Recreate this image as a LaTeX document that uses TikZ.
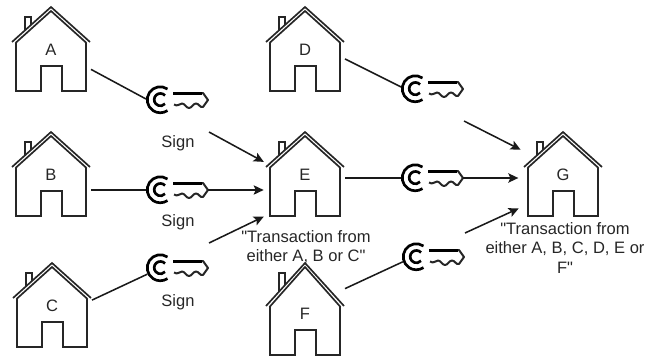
\documentclass[tikz,border=0pt]{standalone}
\usepackage{fontspec}
\setmainfont{Liberation Sans}[Ligatures=TeXOff]
\usetikzlibrary{arrows.meta}

\tikzset{
  every pic/.style={yscale=-1},
  inkline/.style={draw=black!85,line width=1.25pt,line join=miter},
  keyline/.style={draw=black,line width=2pt},
  link/.style={draw=black!90,line width=1.15pt},
  arrowlink/.style={link,-{Stealth[length=7.5pt,width=7pt,inset=1.5pt]},shorten >=1pt},
  housebox/.style={inner sep=0pt,outer sep=0pt,minimum width=60pt},
  keyring/.style={circle,inner sep=0pt,outer sep=0pt,minimum size=21pt},
  textlabel/.style={inner sep=0.75pt,align=center,text=black!85,font=\fontsize{12.4}{14.7}\selectfont},
  pics/house/.style n args={2}{code={
    \node[housebox,minimum height={(#2+49)*0.75pt}] (-box) at (0,{(#2+49)/2}) {};
    \node[textlabel] (-label) at (0,#2+8) {#1};
    %roof, two lines
    \draw[inkline] (-39,#2) -- (0,0) -- (39,#2);
    \draw[inkline] (-35.5,#2+1) -- (0,4) -- (35.5,#2+1);
    %chimney
    \draw[inkline] (-26,{#2*0.68}) -- (-26,10) -- (-20,10) -- (-20,{#2*0.52});
    %walls and door
    \draw[inkline] (-35,#2+1) -- (-35,#2+49) -- (-10,#2+49) -- (-10,#2+24) -- (11,#2+24) -- (11,#2+49) -- (35,#2+49) -- (35,#2+1);
  }},
  pics/signkey/.style={code={
    \node[keyring] (-ring) at (0,0) {};
    \coordinate (-tip) at (48,0);
    %head
    \draw[keyline] (7.5,-11) arc (-56:-304:13);
    \draw[keyline] (5,-4.5) arc (-42:-318:6.2);
    %blade
    \draw[inkline,line width=1.5pt,line join=round] (13,-7) -- (43,-7) -- (48,0) -- (43,7) .. controls (40,8) and (39,3.5) .. (36,3.5) .. controls (33,3.5) and (32,8) .. (29,8) .. controls (26,8) and (25,3.5) .. (22,3.5) .. controls (19,3.5) and (18,7) .. (14,4.5);
    \draw[keyline] (13,-6.5) -- (42,-6.5);
  }},
}

\begin{document}
\begin{tikzpicture}[x=0.75pt,y=0.75pt,yscale=-1,xscale=1]
\useasboundingbox (0,0) rectangle (655,360);

%Shape: Houses
\pic (a) at (51,7) {house={A}{35}};
\pic (b) at (51,132) {house={B}{35}};
\pic (c) at (52,263) {house={C}{35}};
\pic (d) at (305,7) {house={D}{35}};
\pic (e) at (305,132) {house={E}{35}};
\pic (f) at (305,263) {house={F}{43}};
\pic (g) at (563,132) {house={G}{35}};

%Shape: Keys
\pic (ka) at (160,100) {signkey};
\pic (kb) at (160,190) {signkey};
\pic (kc) at (160,268) {signkey};
\pic (kd) at (415,89) {signkey};
\pic (ke) at (415,178) {signkey};
\pic (kf) at (416,257) {signkey};

%free ends of the arrows
\coordinate (signa) at (209,132);
\coordinate (signc) at (209,243);
\coordinate (signd) at (464,121);
\coordinate (signf) at (465,233);

%Straight Lines, house to key
\draw[link] (a-box.-27.7) -- (ka-ring.176);
\draw[link] (kb-ring.west -| b-box.east) -- (kb-ring.west);
\draw[link] (c-box.7) -- (kc-ring.206);
\draw[link] (d-box.-14) -- (kd-ring.172);
\draw[link] (ke-ring.west -| e-box.east) -- (ke-ring.west);
\draw[link] (f-box.27) -- (kf-ring.200);

%Straight Lines, key to house
\draw[arrowlink] (signa) -- (e-box.164.6);
\draw[arrowlink] (kb-tip) -- (kb-tip -| e-box.west);
\draw[arrowlink] (signc) -- (e-box.south west);
\draw[arrowlink,shorten >=2pt] (signd) -- (g-box.150);
\draw[arrowlink,shorten >=3.5pt] (ke-tip) -- (ke-tip -| g-box.west);
\draw[arrowlink,shorten >=3.5pt] (signf) -- (g-box.219.5);

% Text Node
\node[textlabel] (signtexta) at (178,143) {Sign};
\node[textlabel] (signtextb) at (178,222) {Sign};
\node[textlabel] (signtextc) at (178,302) {Sign};
\node[textlabel] (notee) at (306,247) {"Transaction from\\either A, B or C"};
\node[textlabel] (noteg) at (565,248) {"Transaction from\\either A, B, C, D, E or\\F"};

\end{tikzpicture}
\end{document}
